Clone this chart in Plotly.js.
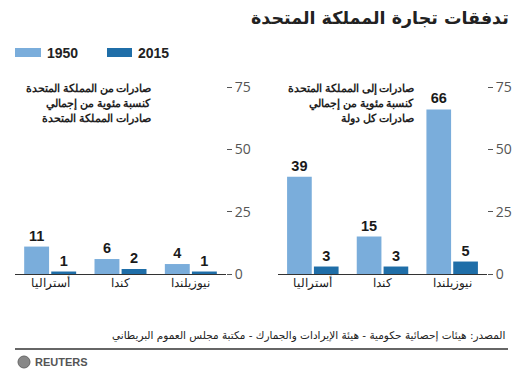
<!DOCTYPE html>
<html><head><meta charset="utf-8">
<script src="https://cdn.plot.ly/plotly-3.0.1.min.js"></script>
<style>html,body{margin:0;padding:0;background:#fff}#chart{width:515px;height:378px}</style>
</head><body><div id="chart"></div>
<script>
const categories = ['أستراليا', 'كندا', 'نيوزيلندا'];
const years = ['1950', '2015'];
const fromUK1950 = [11, 6, 4];
const fromUK2015 = [1, 2, 1];
const toUK1950 = [39, 15, 66];
const toUK2015 = [3, 3, 5];
const yTicks = [0, 25, 50, 75];
const fromUKNote = ['صادرات من المملكة المتحدة', 'كنسبة مئوية من إجمالي', 'صادرات المملكة المتحدة'];
const toUKNote = ['صادرات إلى المملكة المتحدة', 'كنسبة مئوية من إجمالي', 'صادرات كل دولة'];

const W = 515, H = 378;
const px = v => v / W, py = v => 1 - v / H;
const c1950 = '#7aaddb', c2015 = '#1f6ea8';
const arFont = 'DejaVu Sans';
const arFont2 = 'Noto Sans';
const numFont = 'Liberation Sans, Arial, sans-serif';

function bar(x, y, color, xa, ya) {
  return {
    type: 'bar', x: x, y: y, xaxis: xa, yaxis: ya,
    marker: {color: color, line: {width: 0}},
    text: y.map(String), textposition: 'outside', cliponaxis: false,
    outsidetextfont: {family: numFont, size: 14.5, color: '#1a1a1a', weight: 'bold'},
    hoverinfo: 'skip', showlegend: false
  };
}

const data = [
  bar(categories, fromUK1950, c1950, 'x', 'y'),
  bar(categories, fromUK2015, c2015, 'x', 'y'),
  bar(categories, toUK1950, c1950, 'x2', 'y2'),
  bar(categories, toUK2015, c2015, 'x2', 'y2')
];

const xCommon = {
  type: 'category', range: [-0.5, 2.5], showgrid: false, zeroline: false,
  showline: true, linecolor: '#333', linewidth: 1.2, ticks: '', ticklabelstandoff: -3,
  tickfont: {family: arFont2, size: 12, color: '#1a1a1a'}, fixedrange: true
};
const yCommon = {
  range: [0, 75], tickvals: yTicks, side: 'right', showgrid: false, zeroline: false,
  showline: false, ticks: 'outside', ticklen: 5, tickcolor: '#555', tickwidth: 1,
  tickfont: {family: 'Open Sans', size: 14, color: '#555'}, domain: [py(274), py(87)]
};

function noteLines(lines, xRight) {
  return lines.map((t, i) => ({
    text: '<b>' + t + '</b>', xref: 'paper', yref: 'paper', x: px(xRight), y: py(88 + 15 * i),
    xanchor: 'right', yanchor: 'middle', showarrow: false,
    font: {family: arFont2, size: 10.6, color: '#222'}
  }));
}

const layout = {
  width: W, height: H, margin: {l: 0, r: 0, t: 0, b: 0},
  paper_bgcolor: '#fff', plot_bgcolor: 'rgba(0,0,0,0)',
  barmode: 'group', bargap: 0.23, bargroupgap: 0.08,
  xaxis: Object.assign({}, xCommon, {domain: [px(15), px(226)], anchor: 'y'}),
  yaxis: Object.assign({}, yCommon, {anchor: 'x'}),
  xaxis2: Object.assign({}, xCommon, {domain: [px(278), px(487)], anchor: 'y2'}),
  yaxis2: Object.assign({}, yCommon, {anchor: 'x2'}),
  shapes: [
    {type: 'rect', xref: 'paper', yref: 'paper', x0: px(15), x1: px(41), y0: py(57), y1: py(48), fillcolor: c1950, line: {width: 0}},
    {type: 'rect', xref: 'paper', yref: 'paper', x0: px(107), x1: px(132), y0: py(57), y1: py(48), fillcolor: c2015, line: {width: 0}},
    {type: 'line', xref: 'paper', yref: 'paper', x0: px(15), x1: px(508), y0: py(349), y1: py(349), line: {color: '#333', width: 1.3}},
    {type: 'circle', xref: 'paper', yref: 'paper', x0: px(18), x1: px(30), y0: py(368), y1: py(356), fillcolor: '#888', line: {color: '#666', width: 1}}
  ],
  annotations: [
    {text: '<b>تدفقات تجارة المملكة المتحدة</b>', xref: 'paper', yref: 'paper', x: px(511), y: py(18), xanchor: 'right', yanchor: 'middle', showarrow: false, font: {family: arFont, size: 17.5, color: '#222'}},
    {text: '<b>' + years[0] + '</b>', xref: 'paper', yref: 'paper', x: px(45), y: py(53), xanchor: 'left', yanchor: 'middle', showarrow: false, font: {family: numFont, size: 14, color: '#222'}},
    {text: '<b>' + years[1] + '</b>', xref: 'paper', yref: 'paper', x: px(136), y: py(53), xanchor: 'left', yanchor: 'middle', showarrow: false, font: {family: numFont, size: 14, color: '#222'}},
    ...noteLines(fromUKNote, 153),
    ...noteLines(toUKNote, 416),
    {text: 'المصدر: هيئات إحصائية حكومية - هيئة الإيرادات والجمارك - مكتبة مجلس العموم البريطاني', xref: 'paper', yref: 'paper', x: px(507), y: py(335), xanchor: 'right', yanchor: 'middle', showarrow: false, font: {family: arFont, size: 10.5, color: '#222'}},
    {text: '<b>REUTERS</b>', xref: 'paper', yref: 'paper', x: px(33), y: py(362), xanchor: 'left', yanchor: 'middle', showarrow: false, font: {family: numFont, size: 11, color: '#555'}}
  ]
};

Plotly.newPlot('chart', data, layout, {displayModeBar: false, staticPlot: true});
</script></body></html>
